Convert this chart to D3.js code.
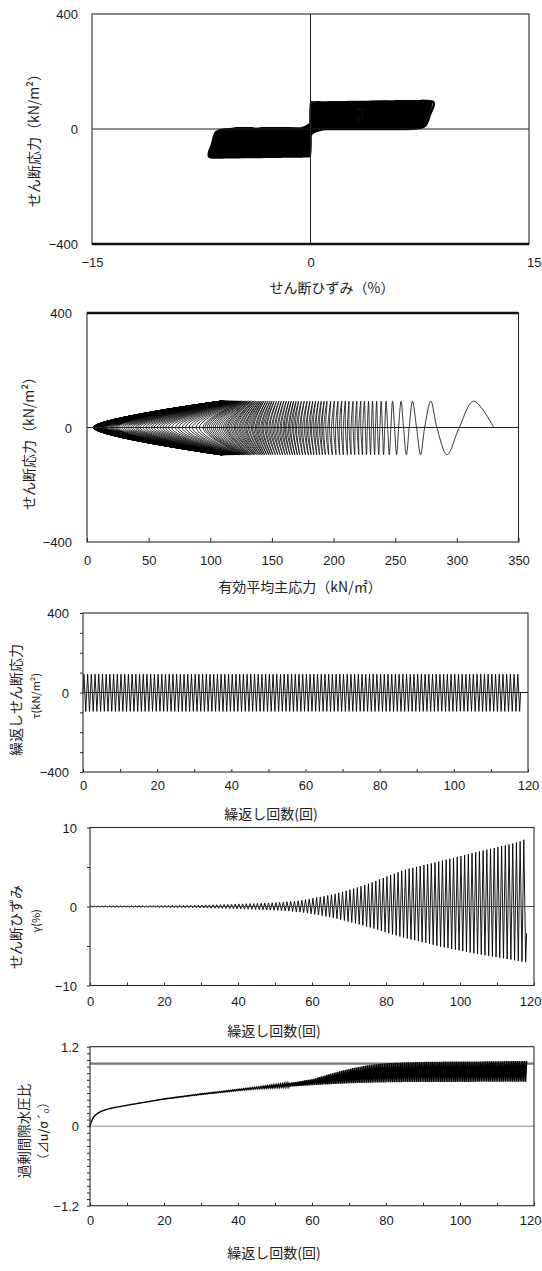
<!DOCTYPE html>
<html><head><meta charset="utf-8">
<script src="https://cdn.jsdelivr.net/npm/d3@7"></script>
<style>
body{margin:0;background:#fff}
svg{display:block}
text{font-family:"Liberation Sans",Arial,sans-serif;fill:#1a1a1a}
.jp{font-family:"Noto Sans CJK JP",sans-serif;fill:#222}
</style></head>
<body><svg id="c" width="542" height="1271"></svg>
<script>
// ---------------- data ----------------
// shear strain peaks (%) per loading cycle, positive and negative
const strainPosPeaks = [
0.05,0.06,0.07,0.07,0.08,0.08,0.08,0.09,0.09,0.09,
0.10,0.10,0.10,0.11,0.11,0.11,0.12,0.12,0.12,0.13,
0.13,0.13,0.14,0.14,0.15,0.15,0.16,0.16,0.17,0.18,
0.19,0.20,0.21,0.22,0.23,0.24,0.26,0.27,0.29,0.31,
0.33,0.34,0.35,0.37,0.38,0.40,0.42,0.44,0.46,0.48,
0.50,0.53,0.56,0.60,0.64,0.68,0.73,0.80,0.88,0.96,
1.05,1.13,1.21,1.30,1.39,1.49,1.60,1.72,1.85,1.99,
2.13,2.27,2.41,2.56,2.72,2.88,3.05,3.23,3.42,3.61,
3.80,3.98,4.16,4.34,4.52,4.65,4.78,4.90,5.02,5.13,
5.24,5.35,5.46,5.57,5.68,5.80,5.92,6.04,6.16,6.28,
6.40,6.52,6.64,6.75,6.86,6.97,7.08,7.19,7.30,7.41,
7.52,7.63,7.74,7.85,7.97,8.10,8.25,8.45];
const strainNegPeaks = [
-0.06,-0.07,-0.07,-0.08,-0.08,-0.08,-0.09,-0.09,-0.09,-0.10,
-0.10,-0.10,-0.11,-0.11,-0.11,-0.12,-0.12,-0.12,-0.13,-0.13,
-0.13,-0.14,-0.14,-0.15,-0.15,-0.16,-0.16,-0.17,-0.17,-0.18,
-0.19,-0.20,-0.21,-0.22,-0.23,-0.24,-0.25,-0.27,-0.28,-0.30,
-0.32,-0.33,-0.34,-0.36,-0.37,-0.39,-0.41,-0.43,-0.45,-0.47,
-0.49,-0.52,-0.55,-0.58,-0.62,-0.66,-0.71,-0.77,-0.84,-0.92,
-1.00,-1.08,-1.16,-1.25,-1.34,-1.44,-1.55,-1.66,-1.78,-1.90,
-2.02,-2.14,-2.26,-2.39,-2.52,-2.65,-2.79,-2.94,-3.09,-3.24,
-3.38,-3.52,-3.66,-3.79,-3.92,-4.04,-4.16,-4.27,-4.38,-4.49,
-4.60,-4.72,-4.84,-4.96,-5.07,-5.17,-5.27,-5.37,-5.46,-5.55,
-5.64,-5.73,-5.82,-5.91,-6.00,-6.08,-6.16,-6.24,-6.32,-6.40,
-6.48,-6.56,-6.64,-6.72,-6.80,-6.88,-6.96,-7.05];
const strainTail = [118.0, -3.4];          // last recorded point (cycle, %)

// cyclic shear stress peaks (kN/m2), positive / negative half-cycles
const stressPeaks = [92, -95];

// excess pore pressure ratio per half-cycle: at stress peak and at the following zero crossing
const ruAtPeak = [
0.050,0.115,0.155,0.180,0.200,0.215,0.228,0.239,0.249,0.257,
0.265,0.271,0.277,0.283,0.288,0.293,0.298,0.303,0.308,0.313,
0.318,0.323,0.327,0.332,0.337,0.342,0.346,0.351,0.356,0.360,
0.365,0.370,0.374,0.379,0.383,0.388,0.392,0.397,0.401,0.406,
0.410,0.414,0.417,0.421,0.424,0.428,0.431,0.435,0.438,0.442,
0.445,0.449,0.452,0.456,0.459,0.463,0.466,0.470,0.473,0.477,
0.480,0.483,0.486,0.489,0.492,0.495,0.498,0.501,0.504,0.507,
0.510,0.513,0.516,0.519,0.522,0.525,0.528,0.531,0.534,0.537,
0.540,0.543,0.545,0.548,0.550,0.553,0.555,0.558,0.560,0.563,
0.565,0.567,0.569,0.571,0.573,0.575,0.577,0.579,0.581,0.583,
0.585,0.587,0.589,0.590,0.592,0.594,0.596,0.598,0.599,0.601,
0.603,0.605,0.606,0.608,0.610,0.612,0.613,0.615,0.617,0.618,
0.620,0.622,0.623,0.625,0.626,0.628,0.629,0.631,0.632,0.634,
0.635,0.636,0.638,0.639,0.640,0.642,0.643,0.644,0.645,0.647,
0.648,0.649,0.650,0.651,0.652,0.653,0.653,0.654,0.655,0.656,
0.657,0.658,0.658,0.659,0.659,0.660,0.661,0.661,0.662,0.662,
0.663,0.663,0.664,0.664,0.664,0.665,0.665,0.665,0.665,0.666,
0.666,0.666,0.666,0.667,0.667,0.667,0.667,0.668,0.668,0.668,
0.668,0.668,0.668,0.668,0.668,0.668,0.668,0.668,0.668,0.668,
0.668,0.668,0.668,0.668,0.669,0.669,0.669,0.669,0.669,0.669,
0.669,0.669,0.669,0.669,0.669,0.669,0.669,0.669,0.670,0.670,
0.670,0.670,0.670,0.670,0.670,0.670,0.670,0.670,0.670,0.670,
0.670,0.670,0.671,0.671,0.671,0.671,0.671,0.671,0.671,0.671,
0.671,0.671,0.671,0.671,0.671,0.671];
const ruAtZero = [
0.085,0.140,0.170,0.190,0.208,0.222,0.234,0.244,0.253,0.261,
0.268,0.274,0.280,0.286,0.291,0.296,0.301,0.306,0.311,0.316,
0.322,0.327,0.332,0.336,0.341,0.346,0.351,0.356,0.360,0.365,
0.370,0.375,0.380,0.384,0.389,0.394,0.399,0.404,0.408,0.413,
0.418,0.422,0.425,0.429,0.433,0.437,0.440,0.444,0.448,0.451,
0.455,0.459,0.462,0.466,0.470,0.474,0.477,0.481,0.485,0.488,
0.492,0.495,0.499,0.502,0.505,0.509,0.512,0.515,0.518,0.522,
0.525,0.529,0.532,0.536,0.539,0.543,0.546,0.550,0.553,0.557,
0.560,0.563,0.567,0.570,0.573,0.577,0.580,0.583,0.586,0.590,
0.593,0.596,0.600,0.603,0.607,0.610,0.613,0.617,0.620,0.624,
0.627,0.631,0.635,0.638,0.642,0.646,0.650,0.654,0.657,0.661,
0.665,0.670,0.675,0.680,0.685,0.690,0.695,0.700,0.705,0.710,
0.715,0.724,0.732,0.741,0.749,0.758,0.766,0.775,0.783,0.792,
0.800,0.807,0.814,0.821,0.828,0.835,0.842,0.849,0.856,0.863,
0.870,0.876,0.881,0.887,0.892,0.898,0.903,0.909,0.914,0.920,
0.925,0.928,0.930,0.933,0.936,0.939,0.941,0.944,0.947,0.949,
0.952,0.953,0.954,0.955,0.956,0.958,0.959,0.960,0.961,0.962,
0.963,0.964,0.964,0.965,0.966,0.967,0.967,0.968,0.969,0.969,
0.971,0.971,0.971,0.971,0.971,0.973,0.973,0.973,0.973,0.973,
0.975,0.975,0.975,0.975,0.975,0.976,0.976,0.976,0.976,0.976,
0.978,0.978,0.978,0.978,0.978,0.978,0.978,0.978,0.978,0.978,
0.978,0.978,0.981,0.981,0.981,0.981,0.981,0.981,0.981,0.981,
0.981,0.981,0.981,0.981,0.984,0.984,0.984,0.984,0.984,0.984,
0.984,0.984,0.984,0.984,0.984,0.984];
const initialMeanStress = 330;   // kN/m2, start of effective stress path
const ruReferenceLine = 0.945;

// axis ticks
const p1XTicks = [-15, 0, 15], p1YTicks = [-400, 0, 400];
const p2XTicks = [0, 50, 100, 150, 200, 250, 300, 350], p2YTicks = [-400, 0, 400];
const cycleTicks = [0, 20, 40, 60, 80, 100, 120];
const cycleMinorTicks = [10, 30, 50, 70, 90, 110];
const p3YTicks = [-400, 0, 400], p3YMinor = [-300, -200, -100, 100, 200, 300];
const p4YTicks = [-10, 0, 10], p4YMinor = [-5, 5];
const p5YTicks = [-1.2, 0, 1.2];
const p5YMinor = [-1.1,-1.0,-0.9,-0.8,-0.7,-0.6,-0.5,-0.4,-0.3,-0.2,-0.1,0.1,0.2,0.3,0.4,0.5,0.6,0.7,0.8,0.9,1.0,1.1];

// ---------------- drawing ----------------
const svg = d3.select("#c");
svg.append("rect").attr("width", 542).attr("height", 1271).attr("fill", "#fff");

function frame(x, y) {
  const [x0, x1] = x.range(), [y0, y1] = y.range();
  svg.append("rect").attr("x", x0).attr("y", y1).attr("width", x1 - x0).attr("height", y0 - y1)
    .attr("fill", "none").attr("stroke", "#2a2a2a").attr("stroke-width", 1.1);
}
function xLabels(x, y, ticks, off, fmt) {
  const g = svg.append("g").attr("transform", `translate(0,${y.range()[0]})`)
    .call(d3.axisBottom(x).tickValues(ticks).tickSize(0).tickFormat(fmt || d3.format("d")));
  g.select(".domain").remove();
  g.selectAll("text").attr("y", off).attr("dy", null).attr("dominant-baseline", "central")
    .attr("font-size", 13).attr("font-family", null);
  // keep the last label inside the picture
  g.selectAll(".tick").filter(d => x(d) > 528).select("text")
    .attr("text-anchor", "end").attr("x", d => 541 - x(d));
  return g;
}
function yLabels(x, y, ticks, gap, fmt) {
  const g = svg.append("g").attr("transform", `translate(${x.range()[0]},0)`)
    .call(d3.axisLeft(y).tickValues(ticks).tickSize(0).tickFormat(fmt || d3.format("d")));
  g.select(".domain").remove();
  g.selectAll("text").attr("x", -gap).attr("dy", null).attr("dominant-baseline", "central")
    .attr("font-size", 13).attr("font-family", null);
  return g;
}
function xTickMarks(x, y, ticks, len) {
  const g = svg.append("g").attr("transform", `translate(0,${y.range()[0]})`)
    .call(d3.axisBottom(x).tickValues(ticks).tickSize(-len).tickFormat(""));
  g.select(".domain").remove();
  g.selectAll("line").attr("stroke", "#2a2a2a");
}
function yTickMarks(x, y, ticks, len) {
  const g = svg.append("g").attr("transform", `translate(${x.range()[0]},0)`)
    .call(d3.axisLeft(y).tickValues(ticks).tickSize(len).tickFormat(""));
  g.select(".domain").remove();
  g.selectAll("line").attr("stroke", "#2a2a2a");
}
function hLine(x, y, v, color, w) {
  svg.append("line").attr("x1", x.range()[0]).attr("x2", x.range()[1])
    .attr("y1", y(v)).attr("y2", y(v)).attr("stroke", color).attr("stroke-width", w);
}
function title(txt, cx, cy, size, rot) {
  svg.append("text").attr("class", "jp").attr("font-size", size)
    .attr("text-anchor", "middle").attr("dominant-baseline", "central")
    .attr("transform", `translate(${cx},${cy})` + (rot ? " rotate(-90)" : ""))
    .text(txt);
}

// ===== Panel 1: stress-strain loops =====
const x1 = d3.scaleLinear([-15, 15], [92, 529]);
const y1 = d3.scaleLinear([-400, 400], [244, 14]);
function loopHalf(pts, fromStrain, toStrain, fromStress, toStress) {
  const s = toStrain >= 0 ? 1 : -1;
  const a = Math.abs(fromStrain), b = Math.abs(toStrain);
  const Ts = Math.abs(fromStress), Te = Math.abs(toStress);
  pts.push([s * (-a + 0.03 * a), -s * 0.55 * Ts]);
  pts.push([s * (-a + 0.07 * a), -s * 0.12 * Ts]);
  pts.push([s * (-a + 0.15 * a), -s * 0.02 * Ts]);
  pts.push([-s * 0.1 * a, s * 0.01 * Te]);
  pts.push([0, s * 0.2 * Te]);
  pts.push([s * 0.04 * b, s * 0.55 * Te]);
  pts.push([s * 0.3 * b, s * 0.8 * Te]);
  pts.push([s * 0.75 * b, s * 0.95 * Te]);
  pts.push([toStrain, toStress]);
}
const loopPts = [[0, 0]];
strainPosPeaks.forEach((P, k) => {
  const prevN = k === 0 ? 0 : strainNegPeaks[k - 1];
  const prevT = k === 0 ? 0 : stressPeaks[1];
  loopHalf(loopPts, prevN, P, prevT, stressPeaks[0]);
  loopHalf(loopPts, P, strainNegPeaks[k], stressPeaks[0], stressPeaks[1]);
});
svg.append("path").attr("d", d3.line().x(d => x1(d[0])).y(d => y1(d[1])).curve(d3.curveCatmullRom.alpha(0.5))(loopPts))
  .attr("fill", "none").attr("stroke", "#000").attr("stroke-width", 2.6).attr("stroke-linejoin", "round");
hLine(x1, y1, 0, "#222", 1);
svg.append("line").attr("x1", x1(0)).attr("x2", x1(0)).attr("y1", y1(400)).attr("y2", y1(-400)).attr("stroke", "#222").attr("stroke-width", 1);
frame(x1, y1);
svg.append("line").attr("x1", x1(-15)).attr("x2", x1(15)).attr("y1", y1(-400)).attr("y2", y1(-400)).attr("stroke", "#111").attr("stroke-width", 2.5);
xLabels(x1, y1, p1XTicks, 18);
yLabels(x1, y1, p1YTicks, 14);
title("せん断ひずみ（%）", 332, 287, 14);
title("せん断応力（kN/m²）", 33, 137, 14, true);

// ===== Panel 2: effective stress path =====
const x2 = d3.scaleLinear([0, 350], [87, 518.5]);
const y2 = d3.scaleLinear([-400, 400], [542, 313]);
const pathPts = [[initialMeanStress, 0]];
ruAtPeak.forEach((r, h) => {
  pathPts.push([initialMeanStress * (1 - r), h % 2 === 0 ? stressPeaks[0] : stressPeaks[1]]);
  pathPts.push([initialMeanStress * (1 - ruAtZero[h]), 0]);
});
svg.append("path").attr("d", d3.line().x(d => x2(d[0])).y(d => y2(d[1])).curve(d3.curveCatmullRom.alpha(0.5))(pathPts))
  .attr("fill", "none").attr("stroke", "#000").attr("stroke-width", 0.8);
hLine(x2, y2, 0, "#222", 1);
frame(x2, y2);
svg.append("line").attr("x1", x2(0)).attr("x2", x2(350)).attr("y1", y2(400)).attr("y2", y2(400)).attr("stroke", "#111").attr("stroke-width", 2.5);
xTickMarks(x2, y2, p2XTicks, 4);
xLabels(x2, y2, p2XTicks, 18);
yLabels(x2, y2, p2YTicks, 15);
title("有効平均主応力（kN/㎡）", 300, 586, 14);
title("せん断応力（kN/m²）", 28, 440, 14, true);

// ===== Panel 3: cyclic shear stress vs cycles =====
const x3 = d3.scaleLinear([0, 120], [83, 528]);
const y3 = d3.scaleLinear([-400, 400], [772, 613]);
const stressPts = [[0, 0]];
ruAtPeak.forEach((r, h) => {
  stressPts.push([h / 2 + 0.25, h % 2 === 0 ? stressPeaks[0] : stressPeaks[1]]);
  stressPts.push([h / 2 + 0.5, 0]);
});
svg.append("path").attr("d", d3.line().x(d => x3(d[0])).y(d => y3(d[1]))(stressPts))
  .attr("fill", "none").attr("stroke", "#000").attr("stroke-width", 0.9);
hLine(x3, y3, 0, "#222", 1);
frame(x3, y3);
xTickMarks(x3, y3, cycleMinorTicks.concat(cycleTicks), 3);
yTickMarks(x3, y3, p3YMinor.concat(p3YTicks), 3);
xLabels(x3, y3, cycleTicks, 13);
yLabels(x3, y3, p3YTicks, 14);
title("繰返し回数(回)", 271, 813, 14);
title("繰返しせん断応力", 15, 700, 14, true);
title("τ(kN/m²)", 35, 696, 11, true);

// ===== Panel 4: shear strain vs cycles =====
const x4 = d3.scaleLinear([0, 120], [90, 534]);
const y4 = d3.scaleLinear([-10, 10], [985.5, 827.5]);
const strainPts = [[0, 0]];
strainPosPeaks.forEach((P, k) => {
  strainPts.push([k + 0.25, P]);
  strainPts.push([k + 0.75, strainNegPeaks[k]]);
});
strainPts.push(strainTail);
svg.append("path").attr("d", d3.line().x(d => x4(d[0])).y(d => y4(d[1]))(strainPts))
  .attr("fill", "none").attr("stroke", "#000").attr("stroke-width", 0.9);
hLine(x4, y4, 0, "#444", 1);
frame(x4, y4);
xTickMarks(x4, y4, cycleMinorTicks.concat(cycleTicks), 3);
yTickMarks(x4, y4, p4YMinor.concat(p4YTicks), 3);
xLabels(x4, y4, cycleTicks, 16);
yLabels(x4, y4, p4YTicks, 13);
title("繰返し回数(回)", 274, 1030, 14);
title("せん断ひずみ", 15, 927, 14, true);
title("γ(%)", 35, 921, 11, true);

// ===== Panel 5: excess pore pressure ratio vs cycles =====
const x5 = d3.scaleLinear([0, 120], [90, 534]);
const y5 = d3.scaleLinear([-1.2, 1.2], [1205.7, 1046.7]);
hLine(x5, y5, ruReferenceLine, "#777", 2.2);
hLine(x5, y5, 0, "#888", 1);
const ruPts = [[0, 0]];
ruAtPeak.forEach((r, h) => {
  ruPts.push([h / 2 + 0.25, r]);
  ruPts.push([h / 2 + 0.5, ruAtZero[h]]);
});
svg.append("path").attr("d", d3.line().x(d => x5(d[0])).y(d => y5(d[1]))(ruPts))
  .attr("fill", "none").attr("stroke", "#000").attr("stroke-width", 1.4);
frame(x5, y5);
xTickMarks(x5, y5, cycleMinorTicks.concat(cycleTicks), 3);
yTickMarks(x5, y5, p5YMinor.concat(p5YTicks), 3);
xLabels(x5, y5, cycleTicks, 15);
yLabels(x5, y5, p5YTicks, 11, d => d === 0 ? "0" : d3.format(".1f")(d));
title("繰返し回数(回)", 274, 1252, 14);
title("過剰間隙水圧比", 23, 1131, 13.5, true);
title("（⊿u/σ´₀）", 42, 1131, 12.5, true);
</script>
</body></html>
